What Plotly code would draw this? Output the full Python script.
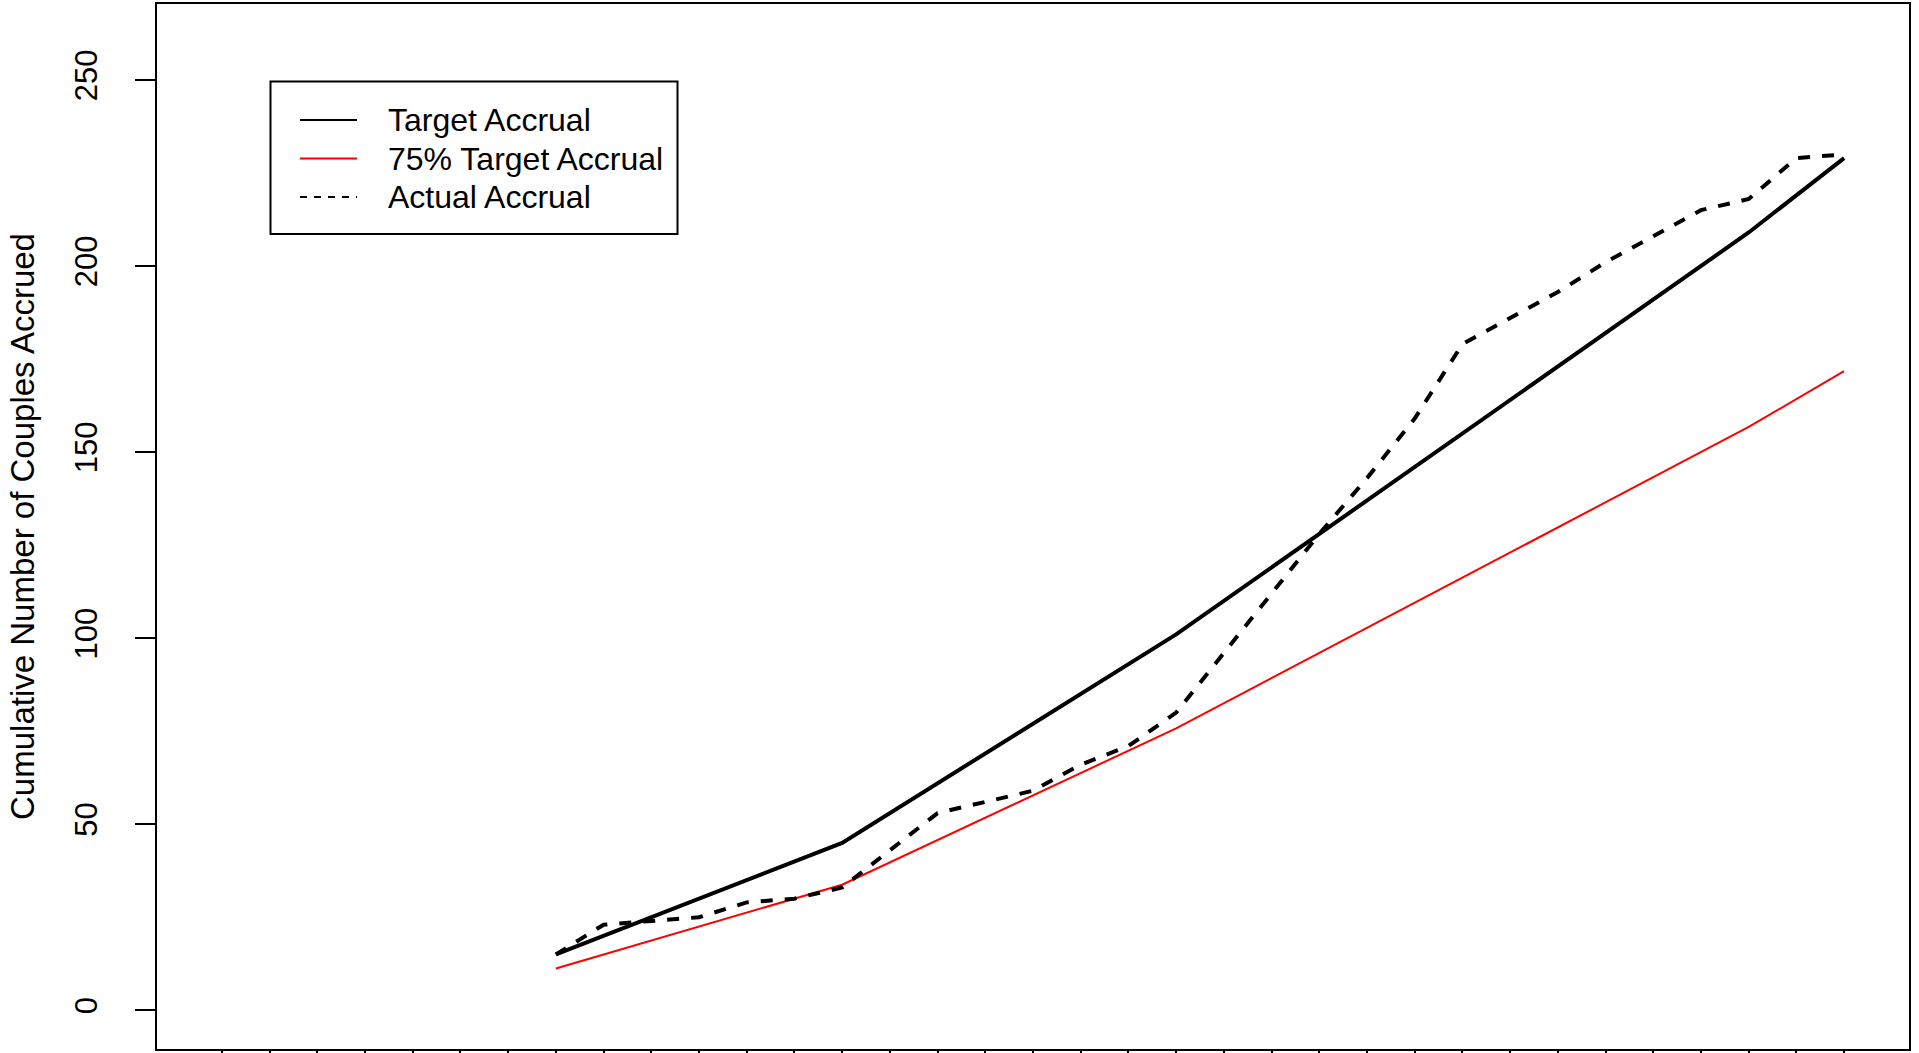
import plotly.graph_objects as go

# Months (index along x axis)
target_months = [7, 13, 20, 32, 34]
target_values = [15, 45, 101, 209, 229]
target75_values = [11.25, 33.75, 75.75, 156.75, 171.75]

actual_months = list(range(7, 35))
actual_values = [15, 23, 24, 25, 29, 30, 33, 43, 53, 56, 59, 66, 71, 80,
                 96, 112, 128, 143, 159, 179, 186, 193, 201, 208, 215, 218, 229, 230]

x_ticks = list(range(0, 35))
y_ticks = [0, 50, 100, 150, 200, 250]

legend_labels = ["Target Accrual", "75% Target Accrual", "Actual Accrual"]

FONT = "Liberation Sans, Arial, sans-serif"

# plot area geometry (pixels) used to place the hand-drawn legend
W, H = 1919, 1053
ML, MR, MT, MB = 157, 10, 4, 4
PW, PH = W - ML - MR, H - MT - MB


def px_x(x):
    return (x - ML) / PW


def px_y(y):
    return (H - MB - y) / PH


fig = go.Figure()
styles = [dict(color="black", width=4),
          dict(color="#ff0000", width=2),
          dict(color="black", width=4, dash="12px,12px")]
fig.add_trace(go.Scatter(x=target_months, y=target_values, mode="lines",
                         name=legend_labels[0], line=styles[0]))
fig.add_trace(go.Scatter(x=target_months, y=target75_values, mode="lines",
                         name=legend_labels[1], line=styles[1]))
fig.add_trace(go.Scatter(x=actual_months, y=actual_values, mode="lines",
                         name=legend_labels[2], line=styles[2]))

# legend box drawn like R's legend()
shapes = [dict(type="rect", xref="paper", yref="paper",
               x0=px_x(270.5), x1=px_x(677.5), y0=px_y(234), y1=px_y(81.5),
               line=dict(color="black", width=2), fillcolor="white", layer="above")]
annotations = []
row_y = [120, 158.5, 197]
for lab, st, ry in zip(legend_labels, styles, row_y):
    shapes.append(dict(type="line", xref="paper", yref="paper",
                       x0=px_x(300), x1=px_x(357), y0=px_y(ry), y1=px_y(ry),
                       line=dict(color=st["color"], width=2,
                                 dash="7px,7px" if "dash" in st else "solid"),
                       layer="above"))
    annotations.append(dict(xref="paper", yref="paper", x=px_x(386), y=px_y(ry),
                            xanchor="left", yanchor="middle", showarrow=False,
                            text=lab, font=dict(size=32, family=FONT, color="black")))

fig.update_layout(
    width=W, height=H,
    margin=dict(l=ML, r=MR, t=MT, b=MB),
    paper_bgcolor="white", plot_bgcolor="white",
    font=dict(family=FONT, size=32, color="black"),
    showlegend=False,
    shapes=shapes, annotations=annotations,
    xaxis=dict(range=[-1.36, 35.36], tickvals=x_ticks, ticktext=["" for _ in x_ticks],
               ticks="outside", ticklen=20, tickwidth=2, tickcolor="black",
               showgrid=False, zeroline=False, showline=True, linecolor="black",
               linewidth=2, mirror=True, automargin=False),
    yaxis=dict(range=[-10.4, 270.4], tickvals=y_ticks,
               ticks="outside", ticklen=20, tickwidth=2, tickcolor="black",
               tickangle=-90, tickfont=dict(size=31), ticklabelstandoff=26,
               showgrid=False, zeroline=False, showline=True, linecolor="black",
               linewidth=2, mirror=True, automargin=False,
               title=dict(text="Cumulative Number of Couples Accrued",
                          font=dict(size=33), standoff=24)),
)

fig.write_html("out.html", config={"displayModeBar": False},
               post_script="document.body.style.margin='0';")
